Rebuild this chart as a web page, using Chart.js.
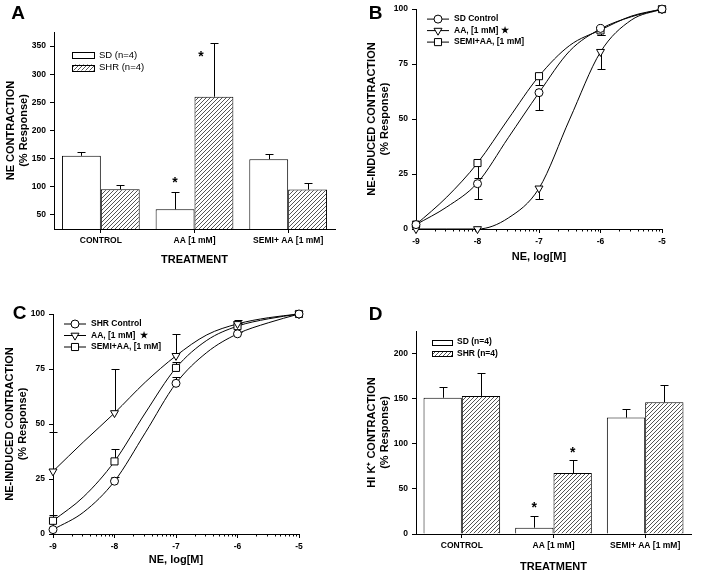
<!DOCTYPE html>
<html lang="en">
<head>
<meta charset="UTF-8" />
<title>NE and HI K+ contraction</title>
<style>
  body { margin: 0; background: #fff; }
  #fig { position: relative; width: 705px; height: 575px; background: #fff; }
  #fig canvas { position: absolute; }
</style>
</head>
<body>
<div id="fig">
  <canvas id="panelA" width="352" height="287" style="left:0;top:0"></canvas>
  <canvas id="panelB" width="353" height="287" style="left:352px;top:0"></canvas>
  <canvas id="panelC" width="352" height="288" style="left:0;top:287px"></canvas>
  <canvas id="panelD" width="353" height="288" style="left:352px;top:287px"></canvas>
</div>

<script src="https://cdn.jsdelivr.net/npm/chart.js@4"></script>
<script>
// ---- bar panels (A, D) ----
const treatments = ["CONTROL", "AA [1 mM]", "SEMI+ AA [1 mM]"];
const groups = ["SD (n=4)", "SHR (n=4)"];

// A: NE contraction (% response), mean + SEM
const neSD = [155, 60, 149];
const neSDErr = [6, 31, 10];
const neSHR = [95.5, 260, 95];
const neSHRErr = [8.5, 95, 11.5];
const neTicks = [50, 100, 150, 200, 250, 300, 350];
// significance stars: [treatment index, group index, height]
const neStars = [[1, 0, 112], [1, 1, 336]];

// D: HI K+ contraction (% response)
const hkSD = [151, 7, 129];
const hkSDErr = [12, 13, 10];
const hkSHR = [153, 67.5, 146];
const hkSHRErr = [25.5, 15, 19];
const hkTicks = [0, 50, 100, 150, 200];
const hkStars = [[1, 0, 32], [1, 1, 93]];

// ---- dose-response panels (B, C) ----
const doses = [-9, -8, -7, -6, -5];
const fitDoses = [-9, -8.5, -8, -7.5, -7, -6.5, -6, -5.5, -5];

// B: SD rats
const bLabels = ["SD Control", "AA, [1 mM] \u2605", "SEMI+AA, [1 mM]"];
const bCtrl = [2, 20.6, 62, 91.2, 100];
const bCtrlErr = [0, 7, 8, 3, 0];
const bAA = [0, 0, 18.5, 80.6, 100];
const bAAErr = [0, 0, 5, 8, 0];
const bSemi = [2, 30, 69.5, 90.3, 100];
const bSemiErr = [0, 7, 4, 2, 0];
const bCtrlFit = [2, 10, 21, 41.5, 62, 81, 91, 96.5, 100];
const bAAFit = [0, 0, 0, 5, 18.5, 50, 80.5, 95, 100];
const bSemiFit = [2, 14.5, 30, 50, 69.5, 83.5, 90.5, 96.8, 100];

// C: SHR rats
const cLabels = ["SHR Control", "AA, [1 mM]  \u2605", "SEMI+AA, [1 mM]"];
const cCtrl = [2, 24, 68.5, 91, 100];
const cCtrlErr = [0, 2, 3, 1, 0];
const cAA = [28.5, 55, 81, 95.5, 100];
const cAAErr = [18, 20, 10, 2, 0];
const cSemi = [6, 33, 75.5, 94.5, 100];
const cSemiErr = [2.5, 5.6, 2.5, 1.5, 0];
const cCtrlFit = [2, 10, 24, 46, 68.5, 82.5, 91, 96, 100];
const cAAFit = [28.5, 42, 55, 69, 81, 90.5, 95.5, 98.3, 100];
const cSemiFit = [6, 17, 33, 55, 75.5, 88, 94.5, 97.8, 100];

const FAMILY = "'Liberation Sans', Arial, sans-serif";
Chart.defaults.font.family = FAMILY;
Chart.defaults.font.weight = "bold";
Chart.defaults.font.size = 8.5;
Chart.defaults.color = "#000";
Chart.defaults.animation = false;

function hatch() {
  const c = document.createElement("canvas");
  c.width = c.height = 4;
  const g = c.getContext("2d");
  g.fillStyle = "#fff";
  g.fillRect(0, 0, 4, 4);
  g.strokeStyle = "#555";
  g.lineWidth = 1;
  g.beginPath();
  g.moveTo(0, 4); g.lineTo(4, 0);
  g.moveTo(-1, 1); g.lineTo(1, -1);
  g.moveTo(3, 5); g.lineTo(5, 3);
  g.stroke();
  return g.createPattern(c, "repeat");
}
const hatchFill = hatch();

// error bars, stars, legend, panel letter, log minor ticks
const extras = {
  id: "extras",
  beforeDatasetsDraw(chart) {
    const ctx = chart.ctx, ys = chart.scales.y;
    ctx.save();
    ctx.strokeStyle = "#000";
    ctx.lineWidth = 1;
    chart.data.datasets.forEach((ds, i) => {
      if (!ds.errors) return;
      chart.getDatasetMeta(i).data.forEach((el, j) => {
        const e = ds.errors[j];
        if (!e) return;
        const v = typeof ds.data[j] === "object" ? ds.data[j].y : ds.data[j];
        const y0 = ys.getPixelForValue(v);
        const y1 = Math.round(ys.getPixelForValue(v + ds.errDir * e)) + 0.5;
        const x = Math.round(el.x) + 0.5;
        ctx.beginPath();
        ctx.moveTo(x, y0); ctx.lineTo(x, y1);
        ctx.moveTo(x - 4, y1); ctx.lineTo(x + 4, y1);
        ctx.stroke();
      });
    });
    ctx.restore();
  },
  afterDraw(chart, args, o) {
    const ctx = chart.ctx, area = chart.chartArea;
    ctx.save();
    ctx.fillStyle = "#000";
    ctx.strokeStyle = "#000";
    ctx.lineWidth = 1;

    if (o.minorTicks) {
      const xs = chart.scales.x;
      ctx.beginPath();
      for (let d = xs.min; d < xs.max; d++) {
        for (let k = 2; k <= 9; k++) {
          const px = Math.round(xs.getPixelForValue(d + Math.log10(k))) + 0.5;
          ctx.moveTo(px, area.bottom);
          ctx.lineTo(px, area.bottom + 2.5);
        }
      }
      ctx.stroke();
    }

    if (o.stars) {
      const ys = chart.scales.y;
      ctx.font = "bold 14px " + FAMILY;
      ctx.textAlign = "center";
      ctx.textBaseline = "middle";
      o.stars.forEach(([cat, g, h]) => {
        const ds = chart.data.datasets[g];
        const el = chart.getDatasetMeta(g).data[cat];
        const errTop = ds.data[cat] + ds.errors[cat];
        const x = h < errTop ? el.x - 13 : el.x;
        ctx.fillText("*", x, ys.getPixelForValue(h) + 3);
      });
    }

    if (o.legend) {
      const L = o.legend;
      ctx.font = L.font;
      ctx.textAlign = "left";
      ctx.textBaseline = "middle";
      const bar = chart.config.type === "bar";
      chart.data.datasets.slice(0, bar ? 2 : 3).forEach((ds, i) => {
        const y = area.top + L.y + i * L.gap;
        if (bar) {
          const bx = area.left + L.x;
          ctx.fillStyle = ds.backgroundColor;
          ctx.fillRect(bx, y - L.h / 2, L.w, L.h);
          ctx.strokeRect(bx + 0.5, Math.round(y - L.h / 2) + 0.5, L.w, L.h);
        } else {
          const lx = area.left + L.x;
          ctx.beginPath();
          ctx.moveTo(lx, y); ctx.lineTo(lx + L.w, y);
          ctx.stroke();
          ctx.fillStyle = "#fff";
          Chart.helpers.drawPoint(ctx, {
            pointStyle: ds.pointStyle, rotation: ds.pointRotation || 0,
            radius: ds.pointRadius, borderWidth: 1
          }, lx + L.w / 2, y);
        }
        ctx.fillStyle = "#000";
        ctx.fillText(ds.label, area.left + L.tx, y);
      });
    }

    if (o.letter) {
      ctx.font = "bold 19px " + FAMILY;
      ctx.textAlign = "center";
      ctx.textBaseline = "middle";
      ctx.fillStyle = "#000";
      ctx.fillText(o.letter.text, o.letter.x, o.letter.y);
    }
    ctx.restore();
  }
};

const grid = { display: true, drawOnChartArea: false, drawTicks: true, tickLength: 4, color: "#000", lineWidth: 1 };
const border = { display: true, color: "#000", width: 1 };
const titleFont = { size: 11, weight: "bold", lineHeight: 1.2 };

function yTitle(lines, pad) {
  return { display: true, text: lines, font: titleFont, padding: { top: pad, bottom: 0 } };
}
function xTitle(text, pad) {
  return { display: true, text: text, font: titleFont, padding: { top: 0, bottom: pad } };
}

function barChart(id, sd, sdErr, shr, shrErr, ticks, stars, lay) {
  new Chart(document.getElementById(id), {
    type: "bar",
    data: {
      labels: treatments,
      datasets: [
        { label: groups[0], data: sd, errors: sdErr, errDir: 1, backgroundColor: "#fff" },
        { label: groups[1], data: shr, errors: shrErr, errDir: 1, backgroundColor: hatchFill }
      ]
    },
    options: {
      responsive: false,
      layout: { padding: { left: 0, top: lay.top, right: lay.right, bottom: 0 } },
      datasets: { bar: { borderColor: "#000", borderWidth: 1, borderSkipped: "bottom", barPercentage: 1, categoryPercentage: lay.cat } },
      plugins: {
        legend: { display: false },
        tooltip: { enabled: false },
        extras: { stars: stars, legend: lay.legend, letter: lay.letter }
      },
      scales: {
        x: {
          type: "category", offset: true,
          grid: Object.assign({}, grid, { offset: false }), border: border,
          ticks: { maxRotation: 0, autoSkip: false, padding: 3 },
          title: xTitle("TREATMENT", lay.xPad),
          afterFit: s => { s.height = lay.xh; }
        },
        y: {
          min: ticks === neTicks ? 25 : 0, max: lay.ymax,
          grid: grid, border: border,
          ticks: { padding: 4 },
          afterBuildTicks: s => { s.ticks = ticks.map(v => ({ value: v })); },
          title: yTitle(lay.ytitle, lay.yPad),
          afterFit: s => { s.width = lay.yw; }
        }
      }
    },
    plugins: [extras]
  });
}

function pts(ys) { return doses.map((d, i) => ({ x: d, y: ys[i] })); }
function fit(ys) { return fitDoses.map((d, i) => ({ x: d, y: ys[i] })); }

function doseChart(id, labels, series, dir, lay) {
  const styles = [
    { pointStyle: "circle", pointRadius: 4, pointRotation: 0 },
    { pointStyle: "triangle", pointRadius: 4.6, pointRotation: 180 },
    { pointStyle: "rect", pointRadius: 5, pointRotation: 0 }
  ];
  const pointSets = series.map((s, i) => Object.assign({
    label: labels[i], data: pts(s.v), errors: s.e, errDir: dir,
    showLine: false, pointBackgroundColor: "#fff", pointBorderColor: "#000",
    pointBorderWidth: 1, clip: false
  }, styles[i]));
  const fitSets = series.map(s => ({
    data: fit(s.f), showLine: true, pointRadius: 0, borderColor: "#000",
    borderWidth: 1, cubicInterpolationMode: "monotone", fill: false, clip: false
  }));
  new Chart(document.getElementById(id), {
    type: "scatter",
    data: { datasets: pointSets.concat(fitSets) },
    options: {
      responsive: false,
      layout: { padding: { left: 0, top: lay.top, right: lay.right, bottom: 0 } },
      plugins: {
        legend: { display: false },
        tooltip: { enabled: false },
        extras: {
          minorTicks: true, letter: lay.letter,
          legend: { x: 11, w: 22, y: 10, gap: 11.5, tx: 38, font: "bold 8.5px " + FAMILY }
        }
      },
      scales: {
        x: {
          type: "linear", min: -9, max: -5,
          grid: grid, border: border,
          ticks: { stepSize: 1, padding: 3.5, maxRotation: 0 },
          title: xTitle("NE, log[M]", lay.xPad),
          afterFit: s => { s.height = lay.xh; }
        },
        y: {
          min: 0, max: 100,
          grid: grid, border: border,
          ticks: { stepSize: 25, padding: 4 },
          title: yTitle(["NE-INDUCED CONTRACTION", "(% Response)"], lay.yPad),
          afterFit: s => { s.width = lay.yw; }
        }
      }
    },
    plugins: [extras]
  });
}

barChart("panelA", neSD, neSDErr, neSHR, neSHRErr, neTicks, neStars, {
  top: 32, right: 17, yw: 54, xh: 58, ymax: 375, cat: 0.83,
  xPad: 20.4, yPad: 4.4, ytitle: ["NE CONTRACTION", "(% Response)"],
  legend: { x: 18, y: 23, w: 22, h: 6, gap: 12.5, tx: 45, font: "9.5px " + FAMILY },
  letter: { text: "A", x: 18, y: 14 }
});

doseChart("panelB", bLabels, [
  { v: bCtrl, e: bCtrlErr, f: bCtrlFit },
  { v: bAA, e: bAAErr, f: bAAFit },
  { v: bSemi, e: bSemiErr, f: bSemiFit }
], -1, { top: 9, right: 43, yw: 64, xh: 58, xPad: 23.7, yPad: 13.1, letter: { text: "B", x: 23.5, y: 14 } });

doseChart("panelC", cLabels, [
  { v: cCtrl, e: cCtrlErr, f: cCtrlFit },
  { v: cAA, e: cAAErr, f: cAAFit },
  { v: cSemi, e: cSemiErr, f: cSemiFit }
], 1, { top: 27, right: 53, yw: 53, xh: 41, xPad: 8.4, yPad: 3.4, letter: { text: "C", x: 19.5, y: 26.5 } });

barChart("panelD", hkSD, hkSDErr, hkSHR, hkSHRErr, hkTicks, hkStars, {
  top: 44, right: 14, yw: 64, xh: 41, ymax: 225, cat: 0.836,
  xPad: 1.7, yPad: 13.1, ytitle: ["HI K\u207A CONTRACTION", "(% Response)"],
  legend: { x: 16, y: 11, w: 20, h: 5, gap: 11.5, tx: 41, font: "bold 8.5px " + FAMILY },
  letter: { text: "D", x: 23.5, y: 28 }
});
</script>
</body>
</html>
